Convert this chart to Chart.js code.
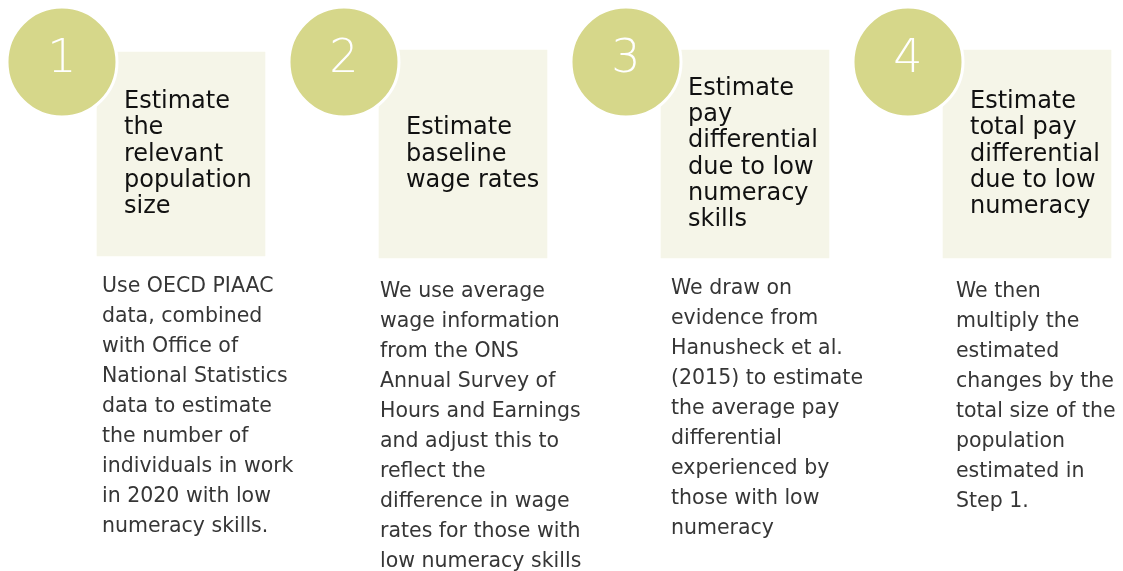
<!DOCTYPE html>
<html>
<head>
<meta charset="utf-8">
<script src="https://cdn.jsdelivr.net/npm/chart.js@4"></script>
<style>
  html, body { margin: 0; padding: 0; background: #fff; }
  #wrap { width: 1123px; height: 571px; position: relative; }
</style>
</head>
<body>
<div id="wrap"><canvas id="stepsChart"></canvas></div>
<script>
// the four steps of the method
const steps = ["1", "2", "3", "4"];

const titles = [
  ["Estimate", "the", "relevant", "population", "size"],
  ["Estimate", "baseline", "wage rates"],
  ["Estimate", "pay", "differential", "due to low", "numeracy", "skills"],
  ["Estimate", "total pay", "differential", "due to low", "numeracy"]
];

const descriptions = [
  ["Use OECD PIAAC", "data, combined", "with Office of", "National Statistics", "data to estimate",
   "the number of", "individuals in work", "in 2020 with low", "numeracy skills."],
  ["We use average", "wage information", "from the ONS", "Annual Survey of", "Hours and Earnings",
   "and adjust this to", "reflect the", "difference in wage", "rates for those with", "low numeracy skills"],
  ["We draw on", "evidence from", "Hanusheck et al.", "(2015) to estimate", "the average pay",
   "differential", "experienced by", "those with low", "numeracy"],
  ["We then", "multiply the", "estimated", "changes by the", "total size of the",
   "population", "estimated in", "Step 1."]
];

// layout (page units, y grows downwards)
const layout = {
  boxSpan: [[52, 256], [50, 258], [50, 258], [50, 258]],
  circleY: 62,
  circleShift: 0.422,
  titleMid: 160.5,
  titleLine: 26.3,
  titleIndent: 27,
  descTop: [292, 297, 294, 297],
  descShift: [-79, -83, -74, -71],
  descLine: 30
};

const textPlugin = {
  id: "stepText",
  afterDatasetsDraw(chart) {
    const ctx = chart.ctx;
    const x = chart.scales.x;
    const y = chart.scales.y;
    ctx.save();
    steps.forEach((s, i) => {
      const cx = x.getPixelForValue(i + 1);
      const boxLeft = cx - 84;

      // number in the circle
      ctx.fillStyle = "#ffffff";
      ctx.font = "200 46px 'DejaVu Sans', sans-serif";
      ctx.textAlign = "center";
      ctx.textBaseline = "middle";
      ctx.fillText(s, x.getPixelForValue(i + 1 - layout.circleShift), y.getPixelForValue(layout.circleY - 2));

      // title inside the box
      ctx.fillStyle = "#111111";
      ctx.font = "24px 'DejaVu Sans', sans-serif";
      ctx.textAlign = "left";
      ctx.textBaseline = "alphabetic";
      const lines = titles[i];
      const first = layout.titleMid - (lines.length - 1) / 2 * layout.titleLine;
      lines.forEach((t, j) => {
        ctx.fillText(t, boxLeft + layout.titleIndent, y.getPixelForValue(first + j * layout.titleLine));
      });

      // description under the box
      ctx.fillStyle = "#363636";
      ctx.font = "20.5px 'DejaVu Sans', sans-serif";
      descriptions[i].forEach((t, j) => {
        ctx.fillText(t, cx + layout.descShift[i], y.getPixelForValue(layout.descTop[i] + j * layout.descLine));
      });
    });
    ctx.restore();
  }
};

new Chart(document.getElementById("stepsChart"), {
  type: "bar",
  data: {
    datasets: [
      {
        type: "bubble",
        data: steps.map((s, i) => ({ x: i + 1 - layout.circleShift, y: layout.circleY, r: 55 })),
        backgroundColor: "#d6d78a",
        borderColor: "#ffffff",
        borderWidth: 3,
        order: 0
      },
      {
        type: "bar",
        data: steps.map((s, i) => ({ x: i + 1, y: layout.boxSpan[i] })),
        backgroundColor: "#f5f5e8",
        borderWidth: 0,
        barThickness: 168,
        order: 1
      }
    ]
  },
  options: {
    responsive: true,
    maintainAspectRatio: false,
    animation: false,
    layout: { padding: 0, autoPadding: false },
    plugins: {
      legend: { display: false },
      tooltip: { enabled: false }
    },
    scales: {
      x: { type: "linear", min: 0.3582, max: 4.3404, offset: false, display: false },
      y: { min: 0, max: 571, reverse: true, display: false }
    }
  },
  plugins: [textPlugin]
});
</script>
</body>
</html>
